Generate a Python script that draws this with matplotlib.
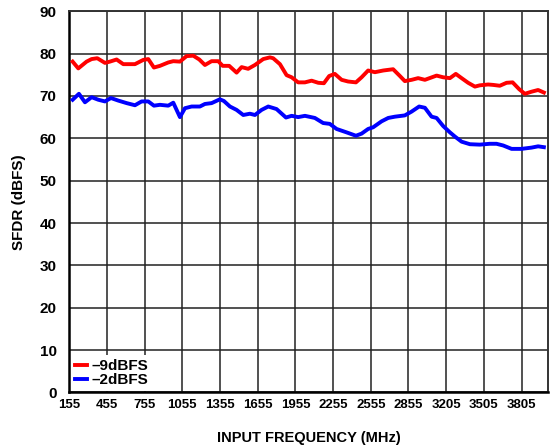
import matplotlib
matplotlib.use('Agg')
import matplotlib.pyplot as plt

plt.rcParams['font.family'] = ['Liberation Sans', 'DejaVu Sans']
plt.rcParams['font.weight'] = 'bold'

# 数据
freq_9 = [182, 227, 293, 333, 378, 439, 479, 532, 585, 678, 744, 784, 829, 877,
          943, 983, 1036, 1089, 1142, 1190, 1235, 1288, 1341, 1376, 1428, 1487,
          1527, 1579, 1633, 1699, 1752, 1778, 1832, 1885, 1925, 1977, 2031, 2084,
          2137, 2182, 2224, 2269, 2323, 2375, 2437, 2482, 2534, 2588, 2654, 2733,
          2787, 2826, 2880, 2932, 2986, 3079, 3131, 3185, 3232, 3278, 3330, 3384,
          3423, 3489, 3529, 3582, 3636, 3684, 3736, 3781, 3835, 3887, 3933]
sfdr_9 = [78.1, 76.5, 78.1, 78.7, 78.9, 77.8, 78.1, 78.6, 77.5, 77.5, 78.5, 78.7,
          76.7, 77.1, 77.9, 78.2, 78.1, 79.4, 79.5, 78.6, 77.3, 78.2, 78.2, 77.1,
          77.1, 75.5, 76.8, 76.4, 77.3, 78.7, 79.1, 78.9, 77.5, 74.9, 74.4, 73.2,
          73.2, 73.6, 73.1, 73.0, 74.7, 75.2, 73.8, 73.4, 73.2, 74.4, 76.0, 75.6,
          76.0, 76.3, 74.7, 73.5, 73.8, 74.2, 73.8, 74.8, 74.4, 74.2, 75.2, 74.2,
          73.1, 72.2, 72.5, 72.7, 72.6, 72.4, 73.1, 73.2, 71.6, 70.5, 71.0, 71.4,
          70.8]

freq_2 = [182, 232, 280, 333, 386, 439, 487, 545, 612, 678, 731, 784, 829, 877,
          943, 983, 1036, 1076, 1129, 1195, 1235, 1288, 1354, 1386, 1434, 1487,
          1540, 1593, 1633, 1686, 1739, 1805, 1880, 1925, 1977, 2031, 2110, 2176,
          2229, 2283, 2362, 2437, 2482, 2534, 2574, 2641, 2694, 2747, 2826, 2880,
          2940, 2986, 3039, 3079, 3131, 3185, 3225, 3278, 3344, 3423, 3502, 3556,
          3609, 3676, 3755, 3835, 3887, 3933]
sfdr_2 = [69.1, 70.5, 68.5, 69.7, 69.1, 68.7, 69.5, 68.9, 68.3, 67.8, 68.7, 68.7,
          67.7, 67.9, 67.7, 68.4, 65.0, 67.1, 67.5, 67.5, 68.1, 68.3, 69.2, 68.8,
          67.5, 66.7, 65.5, 65.8, 65.5, 66.7, 67.5, 66.9, 64.9, 65.3, 65.0, 65.3,
          64.8, 63.6, 63.4, 62.2, 61.4, 60.6, 61.1, 62.2, 62.6, 64.0, 64.8, 65.1,
          65.4, 66.3, 67.5, 67.2, 65.1, 64.8, 62.9, 61.4, 60.4, 59.2, 58.6, 58.5,
          58.7, 58.7, 58.3, 57.5, 57.5, 57.8, 58.1, 57.9]

tick_pos = [155 + 300 * k for k in range(13)]
tick_labels = ['155', '455', '755', '1055', '1355', '1655', '1955', '2255',
               '2555', '2855', '3205', '3505', '3805']

fig = plt.figure(figsize=(5.54, 4.48), dpi=100)
ax = fig.add_axes([0.125, 0.124, 0.864, 0.851])

ax.plot(freq_9, sfdr_9, color='#ff0000', linewidth=2.8, label='–9dBFS', zorder=3)
ax.plot(freq_2, sfdr_2, color='#0000ff', linewidth=2.8, label='–2dBFS', zorder=3)

ax.set_xlim(155, 3965)
ax.set_ylim(0, 90)
ax.set_xticks(tick_pos)
ax.set_xticklabels(tick_labels)
ax.set_yticks(range(0, 91, 10))
ax.tick_params(axis='x', length=0, pad=5, labelsize=9.5)
ax.tick_params(axis='y', length=0, pad=9, labelsize=11)

ax.grid(True, color='#222222', linewidth=1.1)
ax.set_axisbelow(True)
for s in ['left', 'bottom']:
    ax.spines[s].set_linewidth(1.8)
for s in ['top', 'right']:
    ax.spines[s].set_linewidth(1.4)
    ax.spines[s].set_color('#333333')

ax.set_xlabel('INPUT FREQUENCY (MHz)', fontsize=10.5, fontweight='bold', labelpad=14)
ax.set_ylabel('SFDR (dBFS)', fontsize=11, fontweight='bold', labelpad=10)

leg = ax.legend(loc='lower left', fontsize=11, handlelength=0.8, handletextpad=0.3,
                labelspacing=0.0, borderaxespad=0.1, borderpad=0.25,
                frameon=True, fancybox=False, framealpha=1.0)
leg.get_frame().set_edgecolor('white')
leg.get_frame().set_linewidth(0)
for t in leg.get_texts():
    t.set_fontweight('bold')

fig.savefig('out.png', dpi=100)
